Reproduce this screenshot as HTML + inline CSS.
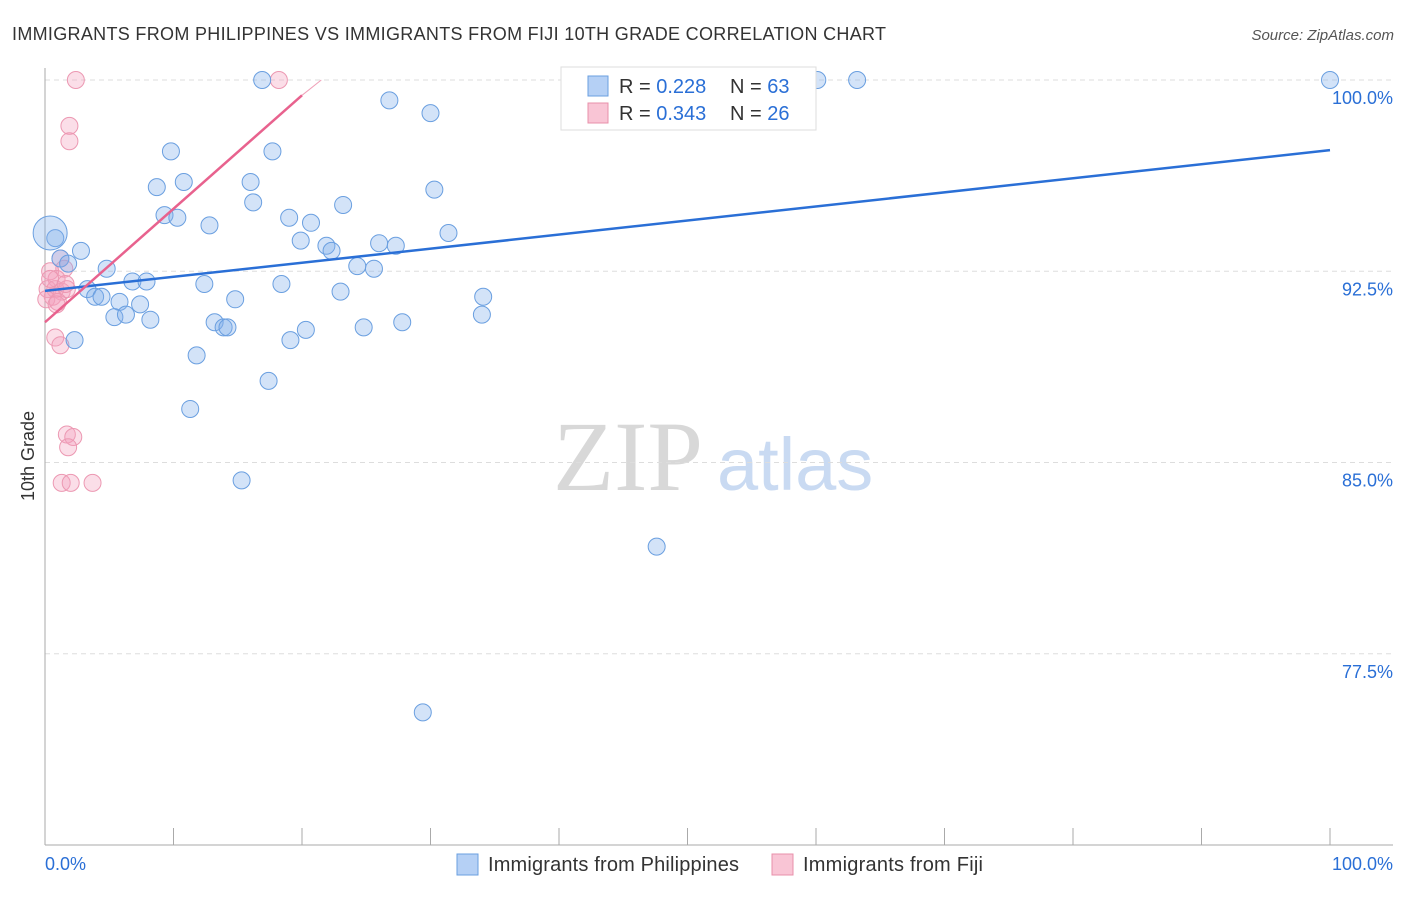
<!DOCTYPE html>
<html><head><meta charset="utf-8"><style>
body{margin:0;background:#fff;font-family:"Liberation Sans",sans-serif}
</style></head><body>
<svg width="1406" height="892" xmlns="http://www.w3.org/2000/svg" id="chart">
<text x="12" y="40" font-size="18" fill="#333" textLength="874">IMMIGRANTS FROM PHILIPPINES VS IMMIGRANTS FROM FIJI 10TH GRADE CORRELATION CHART</text>
<text x="1394" y="40" font-size="15" fill="#555" font-style="italic" text-anchor="end">Source: ZipAtlas.com</text>
<text x="0" y="0" transform="translate(34,456) rotate(-90)" font-size="18" fill="#333" text-anchor="middle">10th Grade</text>
<g>
<text x="553" y="490" font-family="Liberation Serif,serif" font-size="100" fill="#d8d8d8">ZIP</text>
<text x="717" y="490" font-size="74" fill="#c9daf2">atlas</text>
</g>
<g id="grid"></g><g id="axes"></g><g id="marks"></g>
<g>
<rect x="561" y="67" width="255" height="63" fill="#fff" stroke="#ddd"/>
<rect x="588" y="76" width="20" height="20" fill="#b5d0f5" stroke="#6a9fe0"/>
<text x="619" y="93" font-size="20" fill="#333">R = <tspan fill="#2a6fd6">0.228</tspan></text>
<text x="730" y="93" font-size="20" fill="#333">N = <tspan fill="#2a6fd6">63</tspan></text>
<rect x="588" y="103" width="20" height="20" fill="#f9c5d5" stroke="#e890aa"/>
<text x="619" y="120" font-size="20" fill="#333">R = <tspan fill="#2a6fd6">0.343</tspan></text>
<text x="730" y="120" font-size="20" fill="#333">N = <tspan fill="#2a6fd6">26</tspan></text>
</g>
<g>
<rect x="457" y="854" width="21" height="21" fill="#b5d0f5" stroke="#6a9fe0"/>
<text x="488" y="871" font-size="20" fill="#333" textLength="251">Immigrants from Philippines</text>
<rect x="772" y="854" width="21" height="21" fill="#f9c5d5" stroke="#e890aa"/>
<text x="803" y="871" font-size="20" fill="#333" textLength="180">Immigrants from Fiji</text>
</g>
</svg>
<script>
const yTicks=[100,92.5,85,77.5];
const yTickLabels=["100.0%","92.5%","85.0%","77.5%"];
const xTickLabels=["0.0%","100.0%"];
const blueX=[16.9,60.1,63.2,100,26.8,30.0,9.8,17.7,8.7,10.8,16.0,30.3,16.2,23.2,9.3,10.3,19.0,20.7,12.8,31.4,19.9,21.9,22.3,26.0,27.3,2.8,0.8,0.4,1.2,1.8,4.8,24.3,25.6,6.8,7.9,12.4,18.4,23.0,3.3,3.9,4.4,5.8,7.4,14.8,34.1,5.4,6.3,8.2,13.2,13.9,14.2,20.3,24.8,27.8,34.0,2.3,19.1,11.8,17.4,11.3,15.3,47.6,29.4];
const blueY=[100,100,100,100,99.2,98.7,97.2,97.2,95.8,96.0,96.0,95.7,95.2,95.1,94.7,94.6,94.6,94.4,94.3,94.0,93.7,93.5,93.3,93.6,93.5,93.3,93.8,94.0,93.0,92.8,92.6,92.7,92.6,92.1,92.1,92.0,92.0,91.7,91.8,91.5,91.5,91.3,91.2,91.4,91.5,90.7,90.8,90.6,90.5,90.3,90.3,90.2,90.3,90.5,90.8,89.8,89.8,89.2,88.2,87.1,84.3,81.7,75.2];
const pinkX=[2.4,18.2,1.9,1.9,1.2,1.5,0.4,0.9,0.2,0.8,1.3,1.7,0.6,0.1,1.0,0.9,0.8,1.2,1.7,2.2,1.8,1.3,2.0,3.7,0.4,1.6];
const pinkY=[100,100,98.2,97.6,93.0,92.6,92.5,92.2,91.8,91.8,91.7,91.8,91.5,91.4,91.3,91.2,89.9,89.6,86.1,86.0,85.6,84.2,84.2,84.2,92.2,92.0];
const blueTrend=[[0,91.73],[100,97.25]];
const pinkTrend=[[0,90.5],[20,99.4]];
const pinkTrendExt=[[20,99.4],[21.5,100]];
const sx=v=>45+v*12.85, sy=v=>80+(100-v)*25.5;
const NS="http://www.w3.org/2000/svg";
function mk(t,a,p){const e=document.createElementNS(NS,t);for(const k in a)e.setAttribute(k,a[k]);document.getElementById(p).appendChild(e);return e;}
yTicks.forEach((t,i)=>{
 const l=mk('line',{x1:45,x2:1393,y1:sy(t),y2:sy(t),stroke:'#ddd','stroke-dasharray':'5,4'},'grid');
 
 
 const tx=mk('text',{x:1393,y:sy(t)+24,'font-size':18,fill:'#2a6fd6','text-anchor':'end'},'grid');
 tx.textContent=yTickLabels[i];
 
 
});
let a=mk('line',{x1:45,x2:45,y1:68,y2:845,stroke:'#aaa'},'axes');


a=mk('line',{x1:45,x2:1393,y1:845,y2:845,stroke:'#aaa'},'axes');


for(let i=0;i<=10;i++){const t=mk('line',{x1:sx(i*10),x2:sx(i*10),y1:828,y2:845,stroke:'#aaa'},'axes');
 
 }
[[0,'start',45],[100,'end',1393]].forEach((d,i)=>{const t=mk('text',{x:d[2],y:870,'font-size':18,fill:'#2a6fd6','text-anchor':d[1]},'axes');t.textContent=xTickLabels[i];
 
 });
pinkX.forEach((x,i)=>{const c=mk('circle',{cx:sx(x),cy:sy(pinkY[i]),r:8.5,fill:'rgba(244,160,188,0.35)',stroke:'#ec98b2','stroke-width':1},'marks');
 
 });
blueX.forEach((x,i)=>{const c=mk('circle',{cx:sx(x),cy:sy(blueY[i]),r:(i==27?17:8.5),fill:'rgba(130,175,235,0.35)',stroke:'#6a9fe0','stroke-width':1},'marks');
 
 });
let tl=mk('line',{x1:sx(blueTrend[0][0]),y1:sy(blueTrend[0][1]),x2:sx(blueTrend[1][0]),y2:sy(blueTrend[1][1]),stroke:'#2a6fd6','stroke-width':2.5},'marks');


tl=mk('line',{x1:sx(pinkTrend[0][0]),y1:sy(pinkTrend[0][1]),x2:sx(pinkTrend[1][0]),y2:sy(pinkTrend[1][1]),stroke:'#e8628e','stroke-width':2.5},'marks');


tl=mk('line',{x1:sx(pinkTrendExt[0][0]),y1:sy(pinkTrendExt[0][1]),x2:sx(pinkTrendExt[1][0]),y2:sy(pinkTrendExt[1][1]),stroke:'#f0a0b8','stroke-width':1},'marks');


</script>
</body></html>
